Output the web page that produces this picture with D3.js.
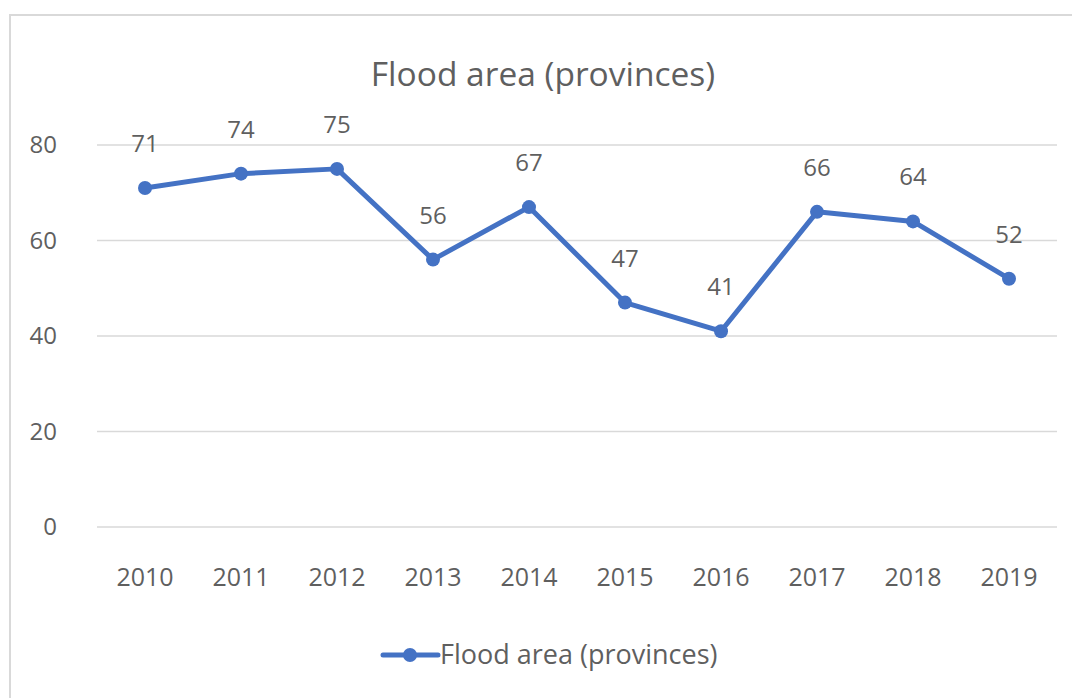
<!DOCTYPE html>
<html>
<head>
<meta charset="utf-8">
<script src="https://cdn.jsdelivr.net/npm/d3@7"></script>
<style>
  body { margin: 0; background: #fff; }
  svg { display: block; }
  text { font-family: "Open Sans", "Noto Sans", sans-serif; fill: #5f5f5f; }
</style>
</head>
<body>
<script>
// data
const years = ["2010","2011","2012","2013","2014","2015","2016","2017","2018","2019"]
const floodArea = [71, 74, 75, 56, 67, 47, 41, 66, 64, 52]
const yTicks = [0, 20, 40, 60, 80]
const title = "Flood area (provinces)"
const seriesName = "Flood area (provinces)"

const svgWidth = 1072
const svgHeight = 698
const margin = {top: 145, right: 15, bottom: 171, left: 97}
const gWidth = svgWidth - margin.left - margin.right
const gHeight = svgHeight - margin.top - margin.bottom
const blue = "#4472C4"

var svg = d3.select("body")
  .append("svg")
    .attr("width", svgWidth)
    .attr("height", svgHeight)

// chart frame
svg.append("rect")
  .attr("x", 10).attr("y", 15)
  .attr("width", 1100).attr("height", 720)
  .attr("fill", "none")
  .attr("stroke", "#d9d9d9")
  .attr("stroke-width", 2)

svg.append("text")
  .attr("x", 543).attr("y", 86)
  .attr("text-anchor", "middle")
  .style("font-size", "33.5px")
  .text(title)

var g = svg.append("g")
  .attr("transform", "translate(" + margin.left + "," + margin.top + ")")

var xScale = d3.scaleBand()
  .domain(years)
  .range([0, gWidth])

var yScale = d3.scaleLinear()
  .domain([0, 80])
  .range([gHeight, 0])

// gridlines
g.selectAll(".grid")
  .data(yTicks)
  .enter()
  .append("line")
    .attr("class", "grid")
    .attr("x1", 0).attr("x2", gWidth)
    .attr("y1", d => yScale(d)).attr("y2", d => yScale(d))
    .attr("stroke", "#d9d9d9")
    .attr("stroke-width", 1.5)

// y axis labels
var yAxis = d3.axisLeft(yScale).tickValues(yTicks).tickSize(0).tickPadding(40)
var yg = g.append("g").call(yAxis)
yg.select(".domain").remove()
yg.selectAll("text")
  .style("font-size", "24px")
  .attr("fill", "#5f5f5f")

// x axis labels
var xAxis = d3.axisBottom(xScale).tickSize(0).tickPadding(41)
var xg = g.append("g")
  .attr("transform", "translate(0," + gHeight + ")")
  .call(xAxis)
xg.select(".domain").remove()
xg.selectAll("text")
  .style("font-size", "25px")
  .attr("fill", "#5f5f5f")
g.selectAll(".tick text").attr("font-family", null)

const cx = d => xScale(d) + xScale.bandwidth() / 2

var line = d3.line()
  .x((d, i) => cx(years[i]))
  .y(d => yScale(d))

g.append("path")
  .datum(floodArea)
  .attr("d", line)
  .attr("fill", "none")
  .attr("stroke", blue)
  .attr("stroke-width", 5)
  .attr("stroke-linejoin", "round")
  .attr("stroke-linecap", "round")

g.selectAll(".pt")
  .data(floodArea)
  .enter()
  .append("circle")
    .attr("class", "pt")
    .attr("cx", (d, i) => cx(years[i]))
    .attr("cy", d => yScale(d))
    .attr("r", 7)
    .attr("fill", blue)

g.selectAll(".lbl")
  .data(floodArea)
  .enter()
  .append("text")
    .attr("class", "lbl")
    .attr("x", (d, i) => cx(years[i]))
    .attr("y", d => yScale(d) - 36)
    .attr("text-anchor", "middle")
    .style("font-size", "24px")
    .text(d => d)

// legend
var leg = svg.append("g").attr("transform", "translate(383,655)")
leg.append("line")
  .attr("x1", 0).attr("x2", 55)
  .attr("stroke", blue).attr("stroke-width", 5)
  .attr("stroke-linecap", "round")
leg.append("circle").attr("cx", 27).attr("r", 7).attr("fill", blue)
leg.append("text")
  .attr("x", 57).attr("y", 9)
  .style("font-size", "27px")
  .text(seriesName)
</script>
</body>
</html>
